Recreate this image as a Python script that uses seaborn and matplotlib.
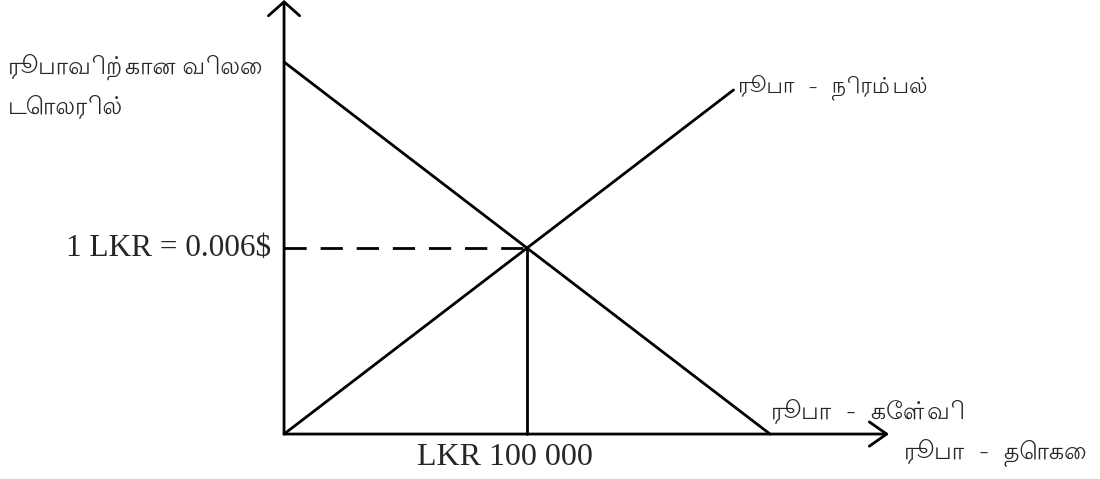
import matplotlib
matplotlib.use("Agg")
import matplotlib.pyplot as plt
import seaborn as sns
import pandas as pd

# data (quantity in thousand LKR, price in $ per LKR)
eq_qty = 100
eq_price = 0.006
supply_qty = [0, 185]
supply_price = [0, 0.0111]
demand_qty = [0, 200]
demand_price = [0.012, 0]
x_max = 249
y_max = 0.014

price_label = ["ரூபாவிற்கான விலை", "டொலரில்"]
supply_label = "ரூபா  -  நிரம்பல்"
demand_label = "ரூபா  -  கேள்வி"
qty_label = "ரூபா  -  தொகை"
eq_qty_label = "LKR 100 000"
eq_price_label = "1 LKR = 0.006$"

sns.set_style("white")
tamil = ["Lohit Tamil", "Noto Sans Tamil", "DejaVu Sans"]
serif = ["Liberation Serif", "DejaVu Serif"]

fig = plt.figure(figsize=(11, 4.79), dpi=100)
ax = fig.add_axes([0, 0, 1, 1])
ax.set_xlim(-116.9, 335.8)
ax.set_ylim(-0.00145, 0.014)
ax.axis("off")

supply = pd.DataFrame({"q": supply_qty, "p": supply_price})
demand = pd.DataFrame({"q": demand_qty, "p": demand_price})
sns.lineplot(data=supply, x="q", y="p", color="black", lw=2, ax=ax)
sns.lineplot(data=demand, x="q", y="p", color="black", lw=2, ax=ax)

# axes with open arrow heads
ax.annotate("", xy=(0, y_max), xytext=(0, 0),
            arrowprops=dict(arrowstyle="->,head_width=0.45,head_length=0.4", color="black",
                            lw=2, mutation_scale=25, shrinkA=0, shrinkB=0))
ax.annotate("", xy=(x_max, 0), xytext=(0, 0),
            arrowprops=dict(arrowstyle="->,head_width=0.35,head_length=0.5", color="black",
                            lw=2, mutation_scale=25, shrinkA=0, shrinkB=0))

# equilibrium guides
ax.plot([0, eq_qty], [eq_price, eq_price], color="black", lw=2, ls=(0, (8, 5)))
ax.plot([eq_qty, eq_qty], [0, eq_price], color="black", lw=2)

ax.text(-113.5, 0.01184, price_label[0], family=tamil, fontsize=17, va="center", ha="left")
ax.text(-113.5, 0.01052, price_label[1], family=tamil, fontsize=17, va="center", ha="left")
ax.text(187, 0.0112, supply_label, family=tamil, fontsize=16, va="center", ha="left")
ax.text(200.5, 0.0007, demand_label, family=tamil, fontsize=17, va="center", ha="left")
ax.text(255, -0.0006, qty_label, family=tamil, fontsize=17, va="center", ha="left")
ax.text(91, -0.00077, eq_qty_label, family=serif, fontsize=23, va="center", ha="center")
ax.text(-5.3, eq_price, eq_price_label, family=serif, fontsize=22.5, va="center", ha="right")

fig.savefig("out.png", dpi=100)
